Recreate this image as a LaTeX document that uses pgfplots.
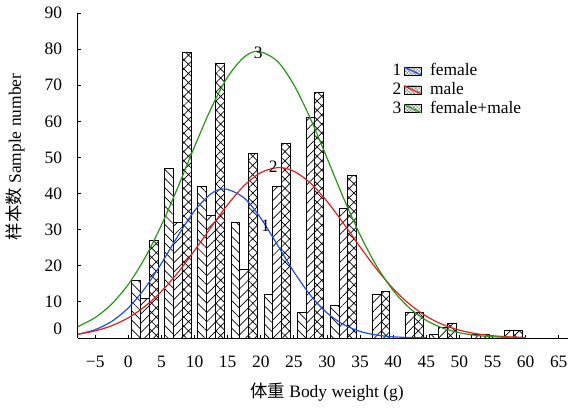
\documentclass[border=0pt]{standalone}
\usepackage{fontspec}
\setmainfont{Liberation Serif}
\newfontfamily\cjk{Noto Sans CJK SC}
\usepackage{pgfplots}
\usepackage{pgfplotstable}
\pgfplotsset{compat=1.18}
\usetikzlibrary{patterns.meta}

\definecolor{cblue}{RGB}{30,80,230}
\definecolor{cred}{RGB}{232,30,30}
\definecolor{cgreen}{RGB}{40,150,25}

% counts per 5 g class, bars: female, male, female+male
\pgfplotstableread{
bin  female male total
2.5  16  11  27
7.5  47  32  79
12.5 42  34  76
17.5 32  19  51
22.5 12  42  54
27.5 7   61  68
32.5 9   36  45
37.5 0   12  13
42.5 0   7   7
47.5 1   3   4
52.5 0   1   1
57.5 0   2   2
}\bins

% fitted curves
\pgfplotstableread{
x y
-7.6 1.02
-5 2.31
-2.5 4.60
0 8.34
2.5 13.76
5 20.67
7.5 28.29
10 35.23
12.5 39.95
14.6 41.30
17.5 38.77
20 33.18
22.5 25.85
25 18.34
27.5 11.84
30 6.96
32.5 3.73
35 1.82
37.5 0.81
40 0.33
42.5 0.12
45 0.04
}\fitf

\pgfplotstableread{
x y
-7.6 1.05
-5 1.97
-2.5 3.41
0 5.59
2.5 8.72
5 12.90
7.5 18.14
10 24.21
12.5 30.68
15 36.93
17.5 42.20
20 45.80
22.7 47.20
25 46.18
27.5 42.91
30 37.85
32.5 31.72
35 25.23
37.5 19.06
40 13.67
42.5 9.32
45 6.03
47.5 3.70
50 2.16
52.5 1.20
55 0.63
57.5 0.31
60 0.15
}\fitm

\pgfplotstableread{
x y
-7.6 3.16
-5 5.67
-2.5 9.43
0 14.85
2.5 22.14
5 31.27
7.5 41.82
10 53.00
12.5 63.59
15 72.29
17.5 77.82
19.65 79.40
22.5 76.65
25 70.12
27.5 60.76
30 49.87
32.5 38.76
35 28.54
37.5 19.91
40 13.15
42.5 8.23
45 4.87
47.5 2.74
50 1.45
52.5 0.73
55 0.35
57.5 0.16
60 0.07
}\fitt

\pgfplotsset{
  barstyle/.style={ybar, bar shift=0pt, bar width=1.3333, draw=black,
    line width=0.9bp, forget plot},
  legimg/.style 2 args={legend image code/.code={
    \node[text=black, anchor=east, inner sep=0pt] at (-2bp,0bp) {#1};
    \draw[black, line width=0.6bp, pattern={Hatch[angle=45,distance=2.4bp,line width=0.4bp]},
      pattern color=gray] (0bp,-4bp) rectangle (17bp,4bp);
    \draw[#2, line width=1.2bp] (0bp,4bp) -- (17bp,-4bp);
    \path[draw=none, fill=none] (0bp,0bp) -- (24bp,0bp);}},
}

\begin{document}
\begin{tikzpicture}[font=\fontsize{17.5}{20.5}\selectfont]
\fontsize{17.5}{20.5}\selectfont
\useasboundingbox (-78bp,-71bp) rectangle (494bp,338bp);
\begin{axis}[
    scale only axis,
    width=490bp, height=325bp,
    xmin=-7.6, xmax=66.4,
    ymin=0, ymax=90,
    axis x line=bottom, axis y line=left,
    axis line style={-, line width=1bp},
    xtick={-5,0,5,10,15,20,25,30,35,40,45,50,55,60,65},
    xticklabels={−5,0,5,10,15,20,25,30,35,40,45,50,55,60,65},
    ytick={10,20,30,40,50,60,70,80,90},
    extra y ticks={0},
    extra y tick style={yticklabel style={yshift=9.5bp}},
    xtick align=inside, ytick align=inside,
    major tick length=3bp,
    tick style={black, line width=0.8bp},
    /pgf/number format/assume math mode=true,
    yticklabel style={xshift=-10bp},
    xticklabel style={yshift=-12bp},
    xlabel={{\cjk 体重} Body weight (g)},
    ylabel={{\cjk 样本数} Sample number},
    xlabel style={at={(axis description cs:0.508,-0.166)}, anchor=center},
    ylabel style={at={(axis description cs:-0.128,0.557)}, anchor=center},
    legend style={draw=none, fill=none, inner sep=0pt,
      at={(axis cs:39.9,76.6)}, anchor=north west, row sep=0bp},
    legend cell align=left,
]
\addplot[barstyle, pattern={Lines[angle=-45,distance=6.5bp,line width=0.7bp]}]
  table[x expr=\thisrow{bin}-1.3333, y=female] {\bins};
\addplot[barstyle, pattern={Lines[angle=45,distance=6.5bp,line width=0.7bp]}]
  table[x=bin, y=male] {\bins};
\addplot[barstyle, pattern={Hatch[angle=45,distance=6.5bp,line width=0.7bp]}]
  table[x expr=\thisrow{bin}+1.3333, y=total] {\bins};

\addplot[cblue, line width=1.2bp, smooth, legimg={1}{cblue}] table {\fitf};
\addlegendentry{female}
\addplot[cred, line width=1.2bp, smooth, legimg={2}{cred}] table {\fitm};
\addlegendentry{male}
\addplot[cgreen, line width=1.2bp, smooth, legimg={3}{cgreen}] table {\fitt};
\addlegendentry{female+male}

\node at (axis cs:20.7,31.2) {1};
\node at (axis cs:21.9,47.3) {2};
\node at (axis cs:19.6,79.0) {3};
\end{axis}
\end{tikzpicture}
\end{document}
